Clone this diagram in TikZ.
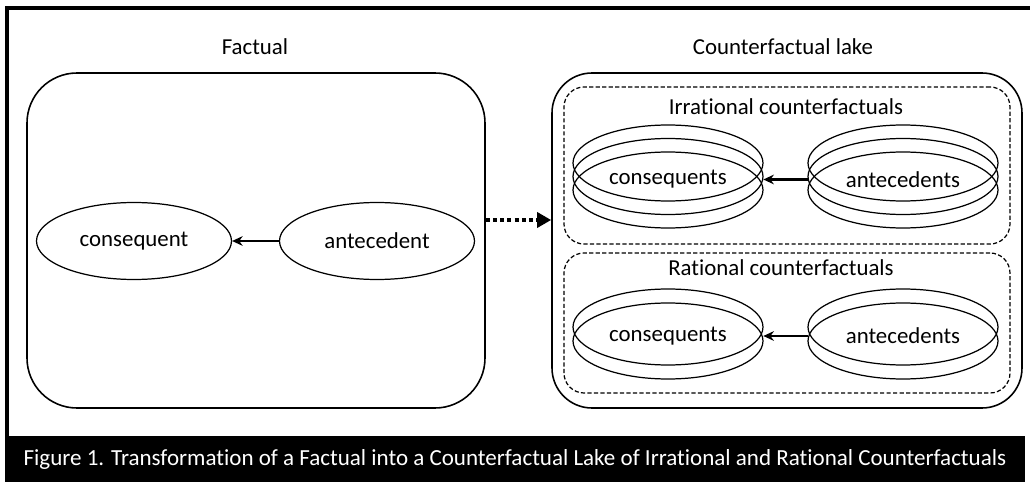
\documentclass[tikz,border=0pt]{standalone}
\usepackage{fontspec}
\setmainfont{Carlito}[Ligatures=NoCommon]
\usetikzlibrary{positioning, arrows.meta, shapes.geometric}

\begin{document}
\begin{tikzpicture}[
    % Styles
    label/.style={font=\fontsize{13}{15}\selectfont},
    bigbox/.style={draw, line width=0.9pt, rectangle, rounded corners=1cm, minimum width=9.16cm, minimum height=6.7cm},
    lakebox/.style={draw, line width=0.9pt, rectangle, rounded corners=0.8cm, minimum width=9.4cm, minimum height=6.7cm},
    groupbox/.style={draw, line width=0.7pt, dash pattern=on 2.4pt off 1.3pt, rectangle, rounded corners=0.4cm, minimum width=8.92cm},
    oval/.style={draw, line width=0.7pt, ellipse, minimum width=3.9cm, minimum height=1.54cm, inner sep=0pt},
    setoval/.style={draw, line width=0.7pt, ellipse, minimum width=3.8cm, minimum height=1.52cm, inner sep=0pt},
    textoval/.style={ellipse, minimum width=3.8cm, minimum height=1.52cm, inner sep=0pt, label},
    link/.style={-{Stealth[length=6pt, width=5.5pt]}, line width=1.6pt},
    transform/.style={-{Triangle[length=8pt, width=8.5pt]}, line width=2.3pt, dash pattern=on 2.3pt off 1.8pt},
]
\useasboundingbox (0,0) rectangle (20.6,9.72);

% Frame and caption band
\draw[line width=2.3pt] (0.1,9.56) -- (20.6,9.56);
\draw[line width=2.3pt] (0.14,9.56) -- (0.14,1.0);
\node[fill=black, minimum width=20.4cm, minimum height=0.92cm, inner sep=0pt] (band) at (10.3,0.54) {};
\node[text=white, font=\fontsize{13.1}{16}\selectfont] (caption) at (band.center) {Figure 1. Transformation of a Factual into a Counterfactual Lake of Irrational and Rational Counterfactuals};

% LEFT: Factual
\node[label] (facttitle) at (5.1,8.78) {Factual};
\node[bigbox] (factual) at (5.12,4.91) {};
\node[oval, label] (conseq) at (2.68,4.9) {consequent};
\node[oval, label] (antec) at (7.54,4.9) {antecedent};
\draw[link] (antec) -- (conseq);

% RIGHT: Counterfactual lake
\node[label] (laketitle) at (15.66,8.78) {Counterfactual lake};
\node[lakebox] (lake) at (15.74,4.91) {};

% Irrational counterfactuals
\node[groupbox, minimum height=3.14cm] (irrational) at (15.74,6.41) {};
\node[label] (irrtitle) at (15.72,7.58) {Irrational counterfactuals};
\node[setoval] (irrconsA) at (13.36,6.46) {};
\node[setoval] (irrconsB) at (13.36,6.19) {};
\node[setoval] (irrconsC) at (13.36,5.92) {};
\node[textoval] (irrcons) at (13.36,6.13) {consequents};
\node[setoval] (irrantA) at (18.06,6.46) {};
\node[setoval] (irrantB) at (18.06,6.19) {};
\node[setoval] (irrantC) at (18.06,5.92) {};
\node[textoval] (irrant) at (18.06,6.13) {antecedents};
\draw[link] (irrant) -- (irrcons);

% Rational counterfactuals
\node[groupbox, minimum height=2.8cm] (rational) at (15.74,3.26) {};
\node[label] (ratitle) at (15.62,4.36) {Rational counterfactuals};
\node[setoval] (ratconsA) at (13.36,3.18) {};
\node[setoval] (ratconsB) at (13.36,2.90) {};
\node[textoval] (ratcons) at (13.36,3.0) {consequents};
\node[setoval] (ratantA) at (18.06,3.18) {};
\node[setoval] (ratantB) at (18.06,2.90) {};
\node[textoval] (ratant) at (18.06,3.0) {antecedents};
\draw[link] (ratant) -- (ratcons);

% Factual into lake
\draw[transform] ([yshift=0.41cm]factual.east) -- ([yshift=0.41cm]lake.west);

\end{tikzpicture}
\end{document}
